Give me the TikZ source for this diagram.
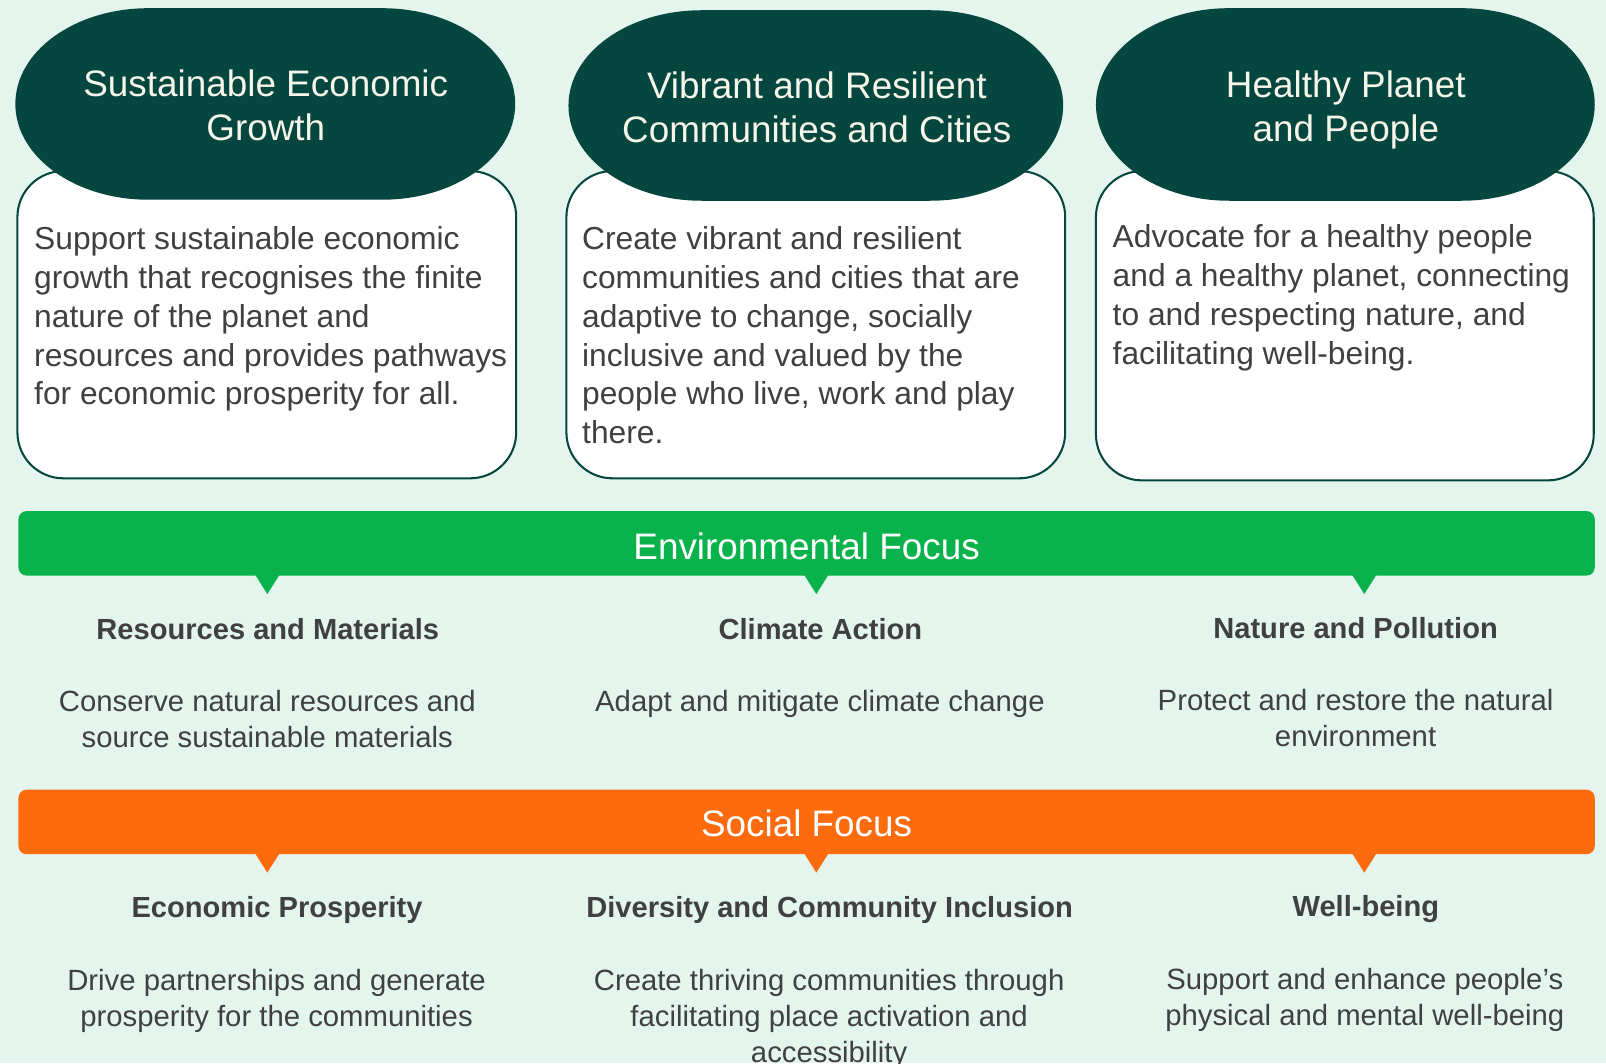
\documentclass[tikz,border=0pt]{standalone}
\usepackage{fontspec}
\setmainfont{Liberation Sans}
\definecolor{bgmint}{HTML}{E4F5EE}
\definecolor{pillgreen}{HTML}{05463E}
\definecolor{titlecol}{HTML}{F5F5EA}
\definecolor{bodycol}{HTML}{404040}
\definecolor{greenbar}{HTML}{09B24A}
\definecolor{orangebar}{HTML}{FC6C0F}
\begin{document}
\begin{tikzpicture}[x=0.5pt,y=0.5pt,
  card/.style={fill=white,draw=pillgreen,line width=1pt,rounded corners=22.5pt},
  pill/.style={fill=pillgreen},
  bar/.style={rounded corners=4pt},
  title/.style={text=titlecol,font=\fontsize{18}{21.5}\selectfont,inner sep=0pt,anchor=base},
  body/.style={text=bodycol,font=\fontsize{15.5}{18.9}\selectfont,inner sep=0pt,anchor=base west},
  bartext/.style={text=white,font=\fontsize{18}{21.6}\selectfont,inner sep=0pt,anchor=base},
  head/.style={text=bodycol,font=\bfseries\fontsize{14.2}{17}\selectfont,inner sep=0pt,anchor=base},
  desc/.style={text=bodycol,font=\fontsize{14.3}{17.5}\selectfont,inner sep=0pt,anchor=base}]
% background
\fill[bgmint] (0,0) rectangle (1568,-1038);
\useasboundingbox (0,0) rectangle (1568,-1038);

% cards
\draw[card] (17,-167) rectangle (504,-467);
\draw[card] (553,-167) rectangle (1040,-467);
\draw[card] (1070,-167) rectangle (1556,-469);

% pills
\fill[pill] (145,-8) -- (373,-8) arc[start angle=90,end angle=-90,x radius=65pt,y radius=46.75pt]
  -- (145,-195) arc[start angle=270,end angle=90,x radius=65pt,y radius=46.75pt] -- cycle;
\fill[pill] (685,-10) -- (908,-10) arc[start angle=90,end angle=-90,x radius=65pt,y radius=46.5pt]
  -- (685,-196) arc[start angle=270,end angle=90,x radius=65pt,y radius=46.5pt] -- cycle;
\fill[pill] (1200,-8) -- (1427,-8) arc[start angle=90,end angle=-90,x radius=65pt,y radius=47pt]
  -- (1200,-196) arc[start angle=270,end angle=90,x radius=65pt,y radius=47pt] -- cycle;

% pill titles
\node[title] (title1) at (259.5,-94) {\parbox[t]{240pt}{\centering Sustainable Economic\\Growth}};
\node[title] (title2) at (797.5,-96) {\parbox[t]{240pt}{\centering Vibrant and Resilient\\Communities and Cities}};
\node[title] (title3) at (1314,-95) {\parbox[t]{240pt}{\centering Healthy Planet\\and People}};

% card texts
\node[body] (body1) at (33,-244) {\parbox[t]{245pt}{\raggedright Support sustainable economic\\growth that recognises the finite\\nature of the planet and\\resources and provides pathways\\for economic prosperity for all.}};
\node[body] (body2) at (568,-244) {\parbox[t]{245pt}{\raggedright Create vibrant and resilient\\communities and cities that are\\adaptive to change, socially\\inclusive and valued by the\\people who live, work and play\\there.}};
\node[body] (body3) at (1086,-242) {\parbox[t]{245pt}{\raggedright Advocate for a healthy people\\and a healthy planet, connecting\\to and respecting nature, and\\facilitating well-being.}};

% environmental bar
\fill[greenbar,bar] (18,-499) rectangle (1557,-562);
\fill[greenbar] (249,-561) -- (273,-561) -- (261,-580) -- cycle;
\fill[greenbar] (785,-561) -- (809,-561) -- (797,-580) -- cycle;
\fill[greenbar] (1320,-561) -- (1344,-561) -- (1332,-580) -- cycle;
\node[bartext] (envlabel) at (787.5,-546) {Environmental Focus};

% environmental items
\node[head] (env1h) at (261.5,-624) {Resources and Materials};
\node[head] (env2h) at (801,-624) {Climate Action};
\node[head] (env3h) at (1323.5,-623) {Nature and Pollution};
\node[desc] (env1d) at (261,-695) {\parbox[t]{260pt}{\centering Conserve natural resources and\\source sustainable materials}};
\node[desc] (env2d) at (800.5,-695) {\parbox[t]{260pt}{\centering Adapt and mitigate climate change}};
\node[desc] (env3d) at (1323.5,-694) {\parbox[t]{260pt}{\centering Protect and restore the natural\\environment}};

% social bar
\fill[orangebar,bar] (18,-771) rectangle (1557,-834);
\fill[orangebar] (249,-833) -- (273,-833) -- (261,-852) -- cycle;
\fill[orangebar] (785,-833) -- (809,-833) -- (797,-852) -- cycle;
\fill[orangebar] (1320,-833) -- (1344,-833) -- (1332,-852) -- cycle;
\node[bartext] (soclabel) at (787.5,-817) {Social Focus};

% social items
\node[head] (soc1h) at (270.5,-896) {Economic Prosperity};
\node[head] (soc2h) at (810,-896) {Diversity and Community Inclusion};
\node[head] (soc3h) at (1333.5,-895) {Well-being};
\node[desc] (soc1d) at (270,-967) {\parbox[t]{260pt}{\centering Drive partnerships and generate\\prosperity for the communities}};
\node[desc] (soc2d) at (809.5,-967) {\parbox[t]{260pt}{\centering Create thriving communities through\\facilitating place activation and\\accessibility}};
\node[desc] (soc3d) at (1332.5,-966) {\parbox[t]{260pt}{\centering Support and enhance people’s\\physical and mental well-being}};
\end{tikzpicture}
\end{document}
